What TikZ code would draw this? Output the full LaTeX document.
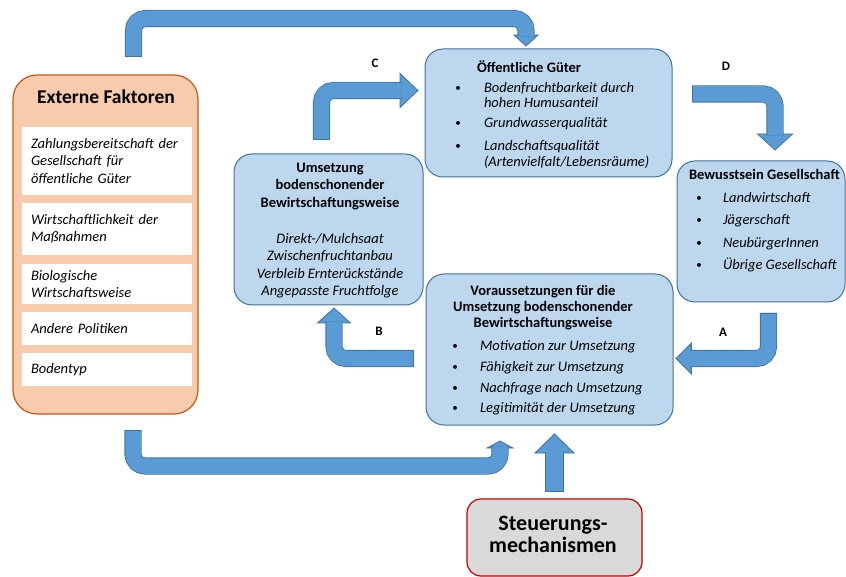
\documentclass[tikz,border=0pt]{standalone}
\usepackage{fontspec}
\setmainfont{Carlito}
\usetikzlibrary{calc}

\definecolor{extfill}{HTML}{F8CBAD}
\definecolor{extedge}{HTML}{C55A11}
\definecolor{boxfill}{HTML}{BDD7EE}
\definecolor{boxedge}{HTML}{41719C}
\definecolor{arrowfill}{HTML}{5B9BD5}
\definecolor{steuerfill}{HTML}{D9D9D9}
\definecolor{steueredge}{HTML}{C00000}

% tip, direction, width, length
\newcommand{\blockhead}[4]{\filldraw[head,shift={(#1)},rotate=#2] (0,0) -- (-#4,#3/2) -- (-#4,-#3/2) -- cycle;}

\begin{document}
\begin{tikzpicture}[x=1pt,y=-1pt,
		every node/.style={inner sep=0pt,outer sep=0pt},
		extbox/.style={draw=extedge,fill=extfill,line width=1.2pt,rounded corners=24pt},
		whitebox/.style={fill=white,minimum width=170pt,text width=152pt,inner xsep=9pt,align=left,font=\fontsize{14.5}{17.5}\selectfont\itshape},
		bluebox/.style={draw=boxedge,fill=boxfill,line width=1pt,rounded corners=18pt},
		steuerbox/.style={draw=steueredge,fill=steuerfill,line width=1.2pt,rounded corners=14pt},
		shaft/.style={draw=boxedge,line width=0.8pt,double=arrowfill,double distance=15.5pt,rounded corners=12pt},
		tailcap/.style={draw=boxedge,line width=0.8pt},
		head/.style={draw=boxedge,line width=0.8pt,fill=arrowfill},
		hd/.style={font=\fontsize{14.5}{16}\selectfont\bfseries,align=center},
		it/.style={font=\fontsize{14.5}{17.5}\selectfont\itshape,anchor=base west},
		dot/.style={font=\fontsize{11}{12}\selectfont,anchor=base},
		letter/.style={font=\fontsize{13}{15}\selectfont\bfseries}
	]
	\useasboundingbox (0,0) rectangle (846,577);
	
	% boxes
	\node[extbox,minimum width=185pt,minimum height=339pt] (ext) at (105.5,244.5) {};
	\node[font=\fontsize{19.5}{21}\selectfont\bfseries] (ext-title) at (106,97) {Externe Faktoren};
	\foreach \i/\y/\h/\t in {1/161/68/{Zahlungsbereitschaft der\\Gesellschaft für\\öffentliche Güter},
		2/229/52/{Wirtschaftlichkeit der\\Maßnahmen},
		3/284/40/{Biologische\\Wirtschaftsweise},
		4/328.5/33/{Andere Politiken},
		5/369.5/33/{Bodentyp}}{
		\node[whitebox,minimum height=\h pt] (ext\i) at (107,\y) {\t};
	}
	
	\node[bluebox,minimum width=247pt,minimum height=128pt] (oeff) at (548.5,113) {};
	\node[bluebox,minimum width=189pt,minimum height=151pt] (ums) at (328.5,229.5) {};
	\node[bluebox,minimum width=247pt,minimum height=151pt] (vor) at (549.5,349.5) {};
	\node[bluebox,minimum width=168pt,minimum height=141pt] (bew) at (761,231.5) {};
	\node[steuerbox,minimum width=175pt,minimum height=77pt] (steuer) at (554.5,537.5) {};
	
	% Oeffentliche Gueter
	\node[hd,anchor=base west] (oeff-title) at (477,72.5) {Öffentliche Güter};
	\foreach \y [count=\i] in {91.5,126.5,149.5}
		\node[dot] (oeff-dot\i) at (458,\y) {•};
	\foreach \y/\t [count=\i] in {92.5/{Bodenfruchtbarkeit durch},107.5/{hohen Humusanteil},127.5/{Grundwasserqualität},150.5/{Landschaftsqualität},166.5/{(Artenvielfalt/Lebensräume)}}
		\node[it] (oeff-t\i) at (484,\y) {\t};
	
	% Umsetzung
	\node[hd,font=\fontsize{14.5}{17.5}\selectfont\bfseries] (ums-title) at (330,186.5) {Umsetzung\\bodenschonender\\Bewirtschaftungsweise};
	\node[align=center,font=\fontsize{14.5}{17.5}\selectfont\itshape] (ums-list) at (330,265.5) {Direkt-/Mulchsaat\\Zwischenfruchtanbau\\Verbleib Ernterückstände\\Angepasste Fruchtfolge};
	
	% Voraussetzungen
	\node[hd] (vor-title) at (543,308) {Voraussetzungen für die\\Umsetzung bodenschonender\\Bewirtschaftungsweise};
	\foreach \y/\t [count=\i] in {350.5/{Motivation zur Umsetzung},371.5/{Fähigkeit zur Umsetzung},392.5/{Nachfrage nach Umsetzung},412.5/{Legitimität der Umsetzung}}{
		\node[dot] (vor-dot\i) at (455,\y-1) {•};
		\node[it] (vor-t\i) at (480,\y) {\t};
	}
	
	% Bewusstsein
	\node[hd,anchor=base west] (bew-title) at (689,179.5) {Bewusstsein Gesellschaft};
	\foreach \y/\t [count=\i] in {202.5/{Landwirtschaft},224.5/{Jägerschaft},247.5/{NeubürgerInnen},269.5/{Übrige Gesellschaft}}{
		\node[dot] (bew-dot\i) at (699,\y-1) {•};
		\node[it] (bew-t\i) at (723,\y) {\t};
	}
	
	% Steuerung
	\node[align=center,font=\fontsize{22}{22}\selectfont\bfseries] (steuer-text) at (553,534) {Steuerungs-\\mechanismen};
	
	% arrows
	\coordinate (top-a) at ($(ext.north)+(28,-19)$);
	\coordinate (top-b) at ($(oeff.north)+(-22.5,-3)$);
	\coordinate (bot-a) at ($(ext.south)+(27.5,16)$);
	\coordinate (bot-b) at ($(vor.south)+(-49.5,16)$);
	\coordinate (up-a) at ($(steuer.north)+(0,-8)$);
	\coordinate (up-b) at ($(vor.south)+(5,9)$);
	\coordinate (c-a) at ($(ums.north)+(-7,-15)$);
	\coordinate (c-b) at ($(oeff.west)+(-7,-22.5)$);
	\coordinate (d-a) at ($(oeff.east)+(20,-19)$);
	\coordinate (d-b) at ($(bew.north)+(14,-11)$);
	\coordinate (a-a) at ($(bew.south)+(7.5,11)$);
	\coordinate (a-b) at ($(vor.east)+(3,9)$);
	\coordinate (b-a) at ($(vor.west)+(-13,9)$);
	\coordinate (b-b) at ($(ums.south)+(5.5,3)$);
	
	\blockhead{top-b}{-90}{24}{11}
	\blockhead{bot-b}{90}{26}{7}
	\blockhead{up-b}{90}{39}{19}
	\blockhead{c-b}{0}{34}{18}
	\blockhead{d-b}{-90}{35}{16}
	\blockhead{a-b}{180}{31}{15.5}
	\blockhead{b-b}{90}{33}{15}
	
	\draw[shaft] (top-a) |- (330,18.5) -| ($(top-b)+(0,-9.5)$);
	\draw[shaft] (bot-a) |- (300,466) -| ($(bot-b)+(0,5.5)$);
	\draw[shaft,double distance=17.5pt] (up-a) -- ($(up-b)+(0,17.5)$);
	\draw[shaft] (c-a) |- ($(c-b)+(-16.5,0)$);
	\draw[shaft] (d-a) -| ($(d-b)+(0,-14.5)$);
	\draw[shaft] (a-a) |- ($(a-b)+(14,0)$);
	\draw[shaft] (b-a) -| ($(b-b)+(0,13.5)$);
	
	% closed tails
	\foreach \p in {top-a,bot-a,c-a,a-a}
		\draw[tailcap] ($(\p)+(-8.15,0)$) -- ($(\p)+(8.15,0)$);
	\foreach \p in {d-a,b-a}
		\draw[tailcap] ($(\p)+(0,-8.15)$) -- ($(\p)+(0,8.15)$);
	\draw[tailcap] ($(up-a)+(-9.15,0)$) -- ($(up-a)+(9.15,0)$);
	
	\node[letter] (lab-a) at (723,332) {A};
	\node[letter] (lab-b) at (379,331) {B};
	\node[letter] (lab-c) at (375,63) {C};
	\node[letter] (lab-d) at (726,66) {D};
\end{tikzpicture}
\end{document}
